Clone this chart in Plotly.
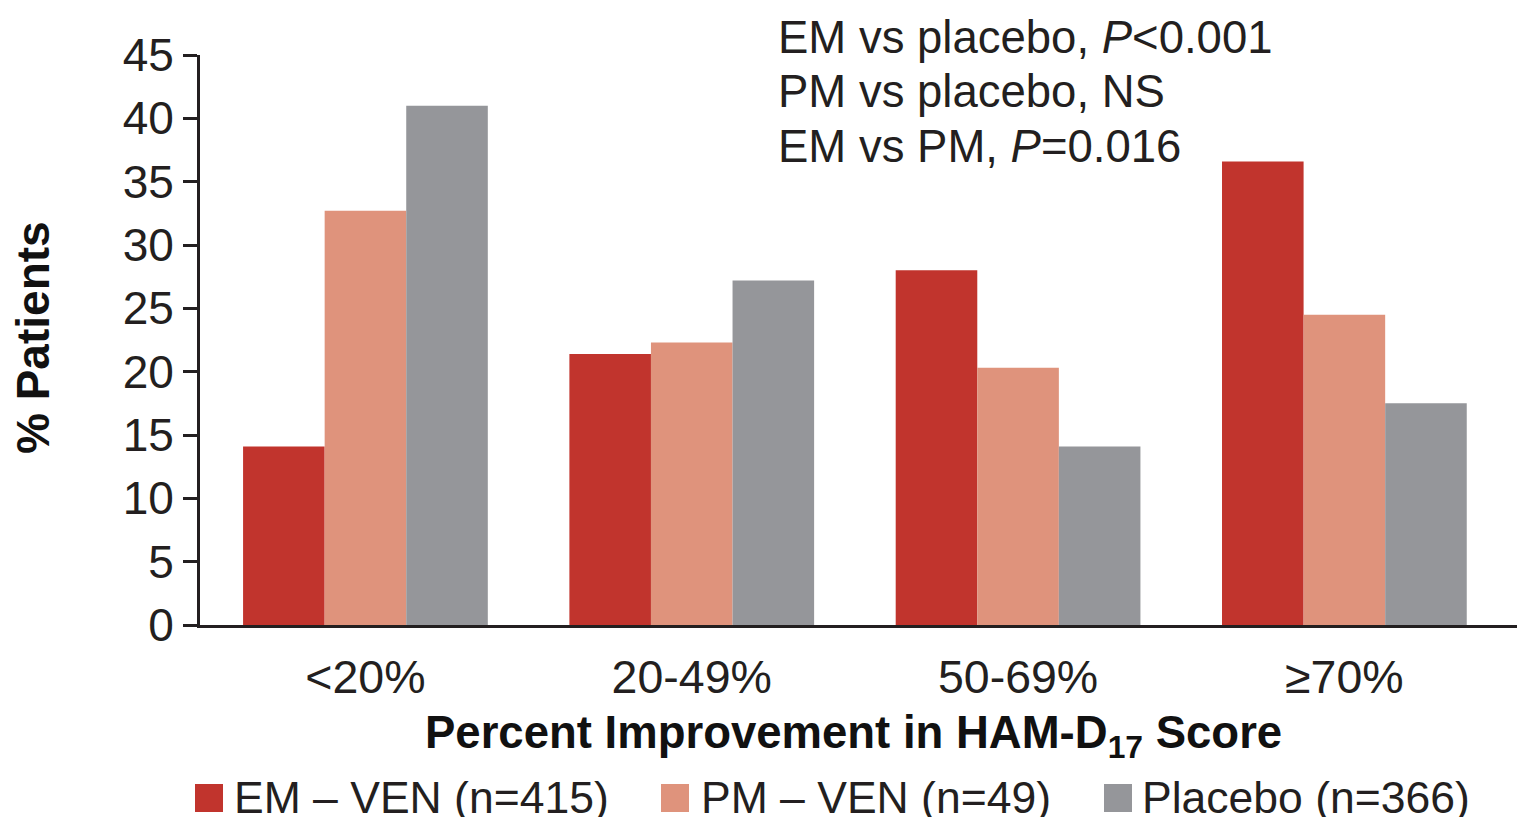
import plotly.graph_objects as go

# Response categories (percent improvement in HAM-D17 score)
categories = ["<20%", "20-49%", "50-69%", "\u226570%"]

# Percent of patients in each response category
em_ven = [14.1, 21.4, 28.0, 36.6]
pm_ven = [32.7, 22.3, 20.3, 24.5]
placebo = [41.0, 27.2, 14.1, 17.5]

series_names = ["EM \u2013 VEN (n=415)", "PM \u2013 VEN (n=49)", "Placebo (n=366)"]
series_values = [em_ven, pm_ven, placebo]
series_colors = ["#c1342d", "#df937c", "#95969a"]

y_ticks = [0, 5, 10, 15, 20, 25, 30, 35, 40, 45]

stats_lines = [
    "EM vs placebo, <i>P</i><0.001",
    "PM vs placebo, NS",
    "EM vs PM, <i>P</i>=0.016",
]

FONT = "Liberation Sans, Arial, Helvetica, sans-serif"
INK = "#231f20"

# Figure geometry (pixels)
W, H = 1526, 820
L, R, T, B = 200, 9, 55, 195
PW = W - L - R
PH = H - T - B


def px_x(px):
    return (px - L) / PW


def px_y(py):
    return (H - B - py) / PH


fig = go.Figure()
for name, vals, col in zip(series_names, series_values, series_colors):
    fig.add_trace(go.Bar(
        x=categories, y=vals, name=name,
        marker=dict(color=col, line=dict(width=0)),
        showlegend=False,
    ))

fig.update_layout(
    width=W, height=H,
    margin=dict(l=L, r=R, t=T, b=B, pad=0),
    paper_bgcolor="white", plot_bgcolor="white",
    barmode="group", bargap=0.25, bargroupgap=0,
    font=dict(family=FONT, size=44, color=INK),
    xaxis=dict(
        range=[-0.507, 3.529],
        showline=True, linewidth=3, linecolor=INK,
        ticks="", showgrid=False, zeroline=False,
        tickfont=dict(size=46.5, color=INK),
        ticklabelstandoff=9,
    ),
    yaxis=dict(
        range=[0, 45], tickvals=y_ticks,
        showline=True, linewidth=3, linecolor=INK,
        ticks="outside", ticklen=14, tickwidth=3, tickcolor=INK,
        showgrid=False, zeroline=False,
        tickfont=dict(size=46, color=INK),
    ),
)

# Axis titles
fig.add_annotation(
    text="Percent Improvement in HAM-D<sub>17</sub> Score",
    xref="paper", yref="paper", x=px_x(853), y=px_y(736),
    xanchor="center", yanchor="middle", showarrow=False,
    font=dict(family=FONT, size=45.5, color="#111111", weight="bold"),
)
fig.add_annotation(
    text="% Patients", textangle=-90,
    xref="paper", yref="paper", x=px_x(33), y=px_y(338),
    xanchor="center", yanchor="middle", showarrow=False,
    font=dict(family=FONT, size=46, color="#111111", weight="bold"),
)

# Statistical comparisons, one line each
for i, line in enumerate(stats_lines):
    fig.add_annotation(
        text=line, xref="paper", yref="paper",
        x=px_x(776), y=px_y(38 + 54 * i),
        xanchor="left", yanchor="middle", align="left", showarrow=False,
        font=dict(family=FONT, size=45.5, color=INK),
    )

# Legend: colour squares with labels along the bottom
legend_boxes = [195, 661, 1104]
legend_text_x = [233, 700, 1141]
for bx, tx, name, col in zip(legend_boxes, legend_text_x, series_names, series_colors):
    fig.add_shape(
        type="rect", xref="paper", yref="paper",
        x0=px_x(bx), x1=px_x(bx + 28), y0=px_y(812), y1=px_y(784),
        fillcolor=col, line=dict(width=0),
    )
    fig.add_annotation(
        text=name, xref="paper", yref="paper",
        x=px_x(tx), y=px_y(797), xanchor="left", yanchor="middle",
        height=40, valign="middle", borderpad=0,
        showarrow=False, font=dict(family=FONT, size=44.5, color=INK),
    )

fig.write_html("out.html")
